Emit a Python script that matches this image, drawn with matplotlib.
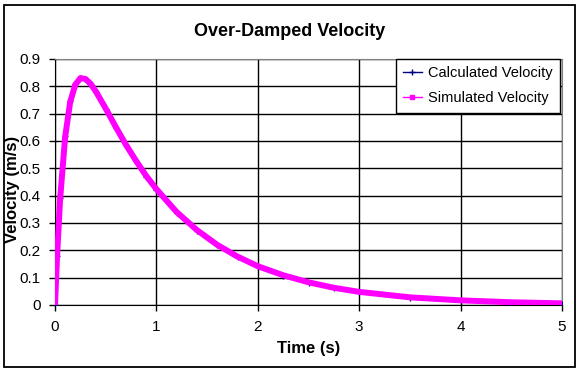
import numpy as np
import matplotlib.pyplot as plt
from matplotlib.lines import Line2D
from matplotlib.patches import Rectangle

plt.rcParams['font.family'] = ['Liberation Sans', 'DejaVu Sans']

# values
time = [0, 0.02, 0.05, 0.1, 0.15, 0.2, 0.25, 0.3, 0.35, 0.4, 0.5, 0.6, 0.7, 0.8, 0.9,
        1.0, 1.2, 1.4, 1.6, 1.8, 2.0, 2.25, 2.5, 2.75, 3.0, 3.5, 4.0, 4.5, 5.0]
calc_vel = [0, 0.181, 0.391, 0.620, 0.746, 0.807, 0.829, 0.826, 0.808, 0.781, 0.717,
            0.649, 0.584, 0.525, 0.470, 0.422, 0.338, 0.272, 0.218, 0.175, 0.140,
            0.107, 0.081, 0.062, 0.047, 0.027, 0.016, 0.009, 0.005]
sim_vel = [0, 0.175, 0.385, 0.615, 0.743, 0.806, 0.830, 0.827, 0.810, 0.783, 0.719,
           0.651, 0.586, 0.527, 0.472, 0.424, 0.340, 0.274, 0.220, 0.177, 0.142,
           0.109, 0.083, 0.063, 0.048, 0.028, 0.017, 0.010, 0.006]

W, H = 579, 369
fig = plt.figure(figsize=(W / 100, H / 100), dpi=100)
ax = fig.add_axes([55 / W, 1 - 305 / H, 507 / W, 246 / H])

ax.plot(time, calc_vel, color='#000080', lw=1, marker='+', ms=4, label='Calculated Velocity', zorder=3)
ax.plot(time, sim_vel, color='#FF00FF', lw=4.3, solid_joinstyle='round', label='Simulated Velocity', zorder=4)

ax.set_xlim(0, 5)
ax.set_ylim(0, 0.9)
ax.set_xticks(np.arange(0, 6, 1))
ax.set_yticks(np.round(np.arange(0, 1.0, 0.1), 1))
ax.set_yticklabels(['0'] + ['%.1f' % v for v in np.arange(0.1, 1.0, 0.1)])
ax.grid(True, color='black', lw=1)
ax.set_axisbelow(True)
ax.tick_params(labelsize=11, length=4, width=1, color='black')
ax.tick_params(axis='y', pad=6.5)
ax.tick_params(axis='x', pad=7)

for s in ['top', 'right']:
    ax.spines[s].set_color('#808080')
for s in ['left', 'bottom']:
    ax.spines[s].set_color('black')

# titles placed in figure pixels
fig.text(289.5 / W, 1 - 31 / H, 'Over-Damped Velocity', fontsize=13, fontweight='bold',
         ha='center', va='center')
fig.text(308.5 / W, 1 - 349 / H, 'Time (s)', fontsize=12, fontweight='bold',
         ha='center', va='center')
fig.text(13 / W, 1 - 189 / H, 'Velocity (m/s)', fontsize=12, fontweight='bold',
         ha='center', va='center', rotation=90)

handles = [Line2D([], [], color='#000080', lw=1, marker='+', ms=5),
           Line2D([], [], color='#FF00FF', lw=1, marker='s', ms=3)]
leg = ax.legend(handles, ['Calculated Velocity', 'Simulated Velocity'],
                loc='upper right', bbox_to_anchor=(559.5 / W, 1 - 58.5 / H),
                bbox_transform=fig.transFigure, fontsize=10.5, frameon=True,
                fancybox=False, framealpha=1, edgecolor='black',
                handlelength=1.3, handletextpad=0.4, borderpad=0.5, labelspacing=0.8,
                borderaxespad=0)
leg.get_frame().set_linewidth(1)
leg.set_zorder(10)

# outer chart border
fig.patches.append(Rectangle((3.5 / W, 1 - 366.5 / H), 571.5 / W, 361.5 / H,
                             transform=fig.transFigure, fill=False,
                             edgecolor='black', lw=1.3))

fig.savefig('out.png', dpi=100)
